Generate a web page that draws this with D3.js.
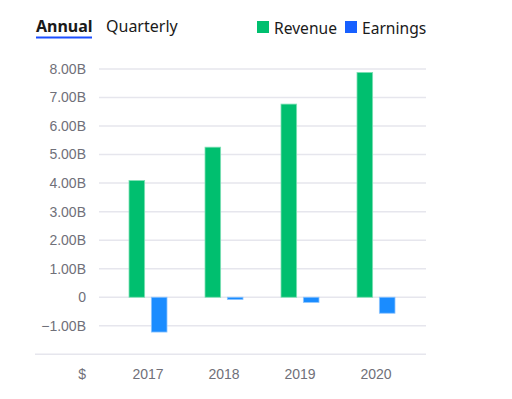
<!DOCTYPE html>
<html><head><meta charset="utf-8">
<script src="https://cdn.jsdelivr.net/npm/d3@7"></script>
<style>
html,body{margin:0;padding:0;background:#fff;}
svg{display:block;}
</style></head>
<body>
<svg id="chart" width="512" height="399"></svg>
<script>
const years = ["2017","2018","2019","2020"];
const revenue = [4.09, 5.26, 6.77, 7.88];
const earnings = [-1.22, -0.08, -0.18, -0.56];
const yTicks = [-1, 0, 1, 2, 3, 4, 5, 6, 7, 8];
const seriesNames = ["Revenue","Earnings"];
const tabs = ["Annual","Quarterly"];

const svg = d3.select("#chart");
const y = d3.scaleLinear().domain([-2, 8]).range([354.3, 69]);
const x = d3.scaleBand().domain(years).range([110, 414]).padding(0);
const inner = d3.scaleBand().domain(seriesNames).range([-19, 19]).paddingInner(0.3);

const fmt = v => v === 0 ? "0" : d3.format(".2f")(v) + "B";
const axisFont = "Liberation Sans, Arial, sans-serif";
const axisColor = "#707079";

// gridlines
svg.append("g").selectAll("line").data(yTicks).join("line")
  .attr("x1", 99).attr("x2", 426)
  .attr("y1", d => y(d)).attr("y2", d => y(d))
  .attr("stroke", "#e6e6ed").attr("stroke-width", 1.5);
// bottom line
svg.append("line").attr("x1", 35).attr("x2", 426)
  .attr("y1", y(-2)).attr("y2", y(-2))
  .attr("stroke", "#e6e6ed").attr("stroke-width", 1.5);

// y labels
svg.append("g").selectAll("text").data(yTicks).join("text")
  .attr("x", 86).attr("y", d => y(d)).attr("dy", "0.35em")
  .attr("text-anchor", "end")
  .attr("font-family", axisFont)
  .attr("font-size", 14).attr("fill", axisColor)
  .text(fmt);

// x labels
const xAxis = d3.axisBottom(x).tickSize(0).tickPadding(0);
const xg = svg.append("g").attr("transform", `translate(0,${y(-2)})`).call(xAxis);
xg.select(".domain").remove();
xg.selectAll("text").attr("y", 19.5).attr("dy", "0.35em")
  .attr("font-family", axisFont)
  .attr("font-size", 14).attr("fill", axisColor);
svg.append("text").attr("x", 86).attr("y", y(-2) + 19.5).attr("dy", "0.35em")
  .attr("text-anchor", "end")
  .attr("font-family", axisFont)
  .attr("font-size", 14).attr("fill", axisColor).text("$");

// bars
const barColors = {Revenue: "#00bf6f", Earnings: "#1a8cff"};
const strokeColors = {Revenue: "#7fe0b5", Earnings: "#8cc4ff"};
const data = years.map((yr, i) => ({year: yr, Revenue: revenue[i], Earnings: earnings[i]}));
const groups = svg.append("g").selectAll("g").data(data).join("g")
  .attr("transform", d => `translate(${x(d.year) + x.bandwidth()/2},0)`);
groups.selectAll("rect").data(d => seriesNames.map(s => ({s, v: d[s]}))).join("rect")
  .attr("x", d => inner(d.s))
  .attr("width", inner.bandwidth())
  .attr("y", d => Math.min(y(d.v), y(0)))
  .attr("height", d => Math.abs(y(d.v) - y(0)))
  .attr("fill", d => barColors[d.s])
  .attr("stroke", d => strokeColors[d.s]).attr("stroke-width", 0.8);

// tabs
const tabFont = "'Noto Sans', 'Open Sans', sans-serif";
svg.append("text").attr("x", 36).attr("y", 32)
  .attr("font-family", tabFont).attr("font-size", 16).attr("font-weight", "bold")
  .attr("fill", "#1a1a1a").text(tabs[0]);
svg.append("rect").attr("x", 36).attr("y", 36.5).attr("width", 56).attr("height", 2)
  .attr("fill", "#1b4dff");
svg.append("text").attr("x", 106).attr("y", 32)
  .attr("font-family", tabFont).attr("font-size", 16)
  .attr("fill", "#1a1a1a").text(tabs[1]);

// legend
const legendColors = {Revenue: "#00bf6f", Earnings: "#1760ff"};
const legendX = [257, 345];
seriesNames.forEach((s, i) => {
  svg.append("rect").attr("x", legendX[i]).attr("y", 21).attr("width", 12).attr("height", 12)
    .attr("fill", legendColors[s]);
  svg.append("text").attr("x", legendX[i] + 17).attr("y", 34)
    .attr("font-family", tabFont).attr("font-size", 15.6)
    .attr("fill", "#1a1a1a").text(s);
});
</script>
</body></html>
